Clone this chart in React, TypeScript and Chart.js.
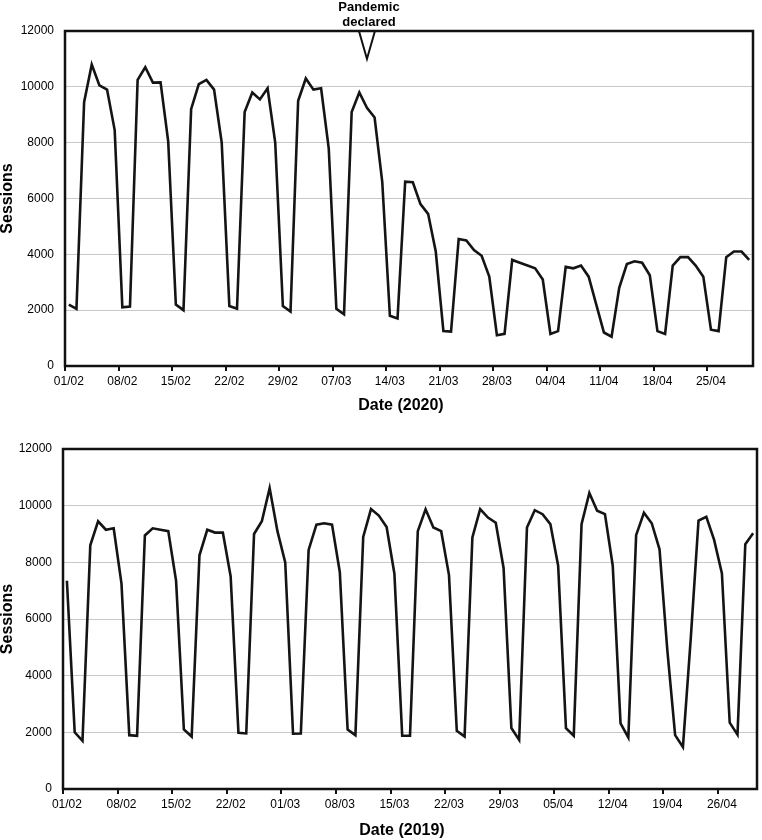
import React, { useEffect, useRef } from 'react';
import { Chart, registerables } from 'chart.js';

Chart.register(...registerables);

const FONT = '"Liberation Sans", Arial, Helvetica, sans-serif';

// Month lengths (month number, days) for the two periods shown
const months2020: [number, number][] = [[2, 29], [3, 31], [4, 30]];
const months2019: [number, number][] = [[2, 28], [3, 31], [4, 30]];

function dayLabels(months: [number, number][]): string[] {
  const out: string[] = [];
  for (const [m, n] of months) {
    for (let d = 1; d <= n; d++) {
      out.push(String(d).padStart(2, '0') + '/' + String(m).padStart(2, '0'));
    }
  }
  return out;
}

const dates2020 = dayLabels(months2020);
const dates2019 = dayLabels(months2019);

const sessions2020 = [
  2200, 2050, 9450, 10800, 10050, 9900, 8450,
  2100, 2130, 10250, 10700, 10150, 10160, 8050,
  2200, 2000, 9200, 10100, 10250, 9900, 8000,
  2150, 2050, 9100, 9800, 9550, 9950, 8000,
  2150, 1950, 9500, 10300, 9900, 9950, 7800,
  2050, 1850, 9100, 9800, 9250, 8900, 6600,
  1800, 1700, 6600, 6580, 5800, 5450, 4100,
  1250, 1230, 4550, 4500, 4150, 3950, 3200,
  1100, 1150, 3800, 3700, 3600, 3500, 3100,
  1150, 1250, 3550, 3500, 3600, 3200, 2200,
  1200, 1050, 2800, 3650, 3750, 3700, 3250,
  1250, 1150, 3600, 3900, 3900, 3600, 3200,
  1300, 1250, 3900, 4100, 4100, 3800,
];

const sessions2019 = [
  7350, 2000, 1700, 8600, 9450, 9150, 9200,
  7250, 1900, 1880, 8950, 9200, 9150, 9100,
  7350, 2100, 1850, 8250, 9150, 9050, 9050,
  7500, 1980, 1960, 9000, 9450, 10620, 9100,
  8000, 1950, 1960, 8440, 9330, 9380, 9330,
  7650, 2100, 1900, 8900, 9880, 9650, 9250,
  7600, 1880, 1880, 9100, 9870, 9230, 9100,
  7550, 2050, 1850, 8880, 9880, 9580, 9400,
  7800, 2150, 1730, 9230, 9840, 9700, 9350,
  7880, 2150, 1880, 9350, 10450, 9820, 9700,
  7880, 2320, 1820, 8960, 9750, 9380, 8460,
  4900, 1900, 1480, 5300, 9470, 9610, 8790,
  7610, 2340, 1920, 8640, 9030,
];

const yMin = 0;
const yMax = 12000;
const yStep = 2000;
const labelEvery = 7;

const pandemicDate = '11/03';
const pandemicMarkerValue = 11000;
const pandemicText = ['Pandemic', 'declared'];

type PanelProps = {
  labels: string[];
  values: number[];
  xTitle: string;
  pad: { top: number; right: number };
  yWidth: number;
  xHeight: number;
  xTitleY: number;
  annotation?: boolean;
};

function Panel({ labels, values, xTitle, pad, yWidth, xHeight, xTitleY, annotation }: PanelProps) {
  const ref = useRef<HTMLCanvasElement | null>(null);

  useEffect(() => {
    if (!ref.current) return;
    const framePlugin = {
      id: 'frame',
      afterDraw(chart: any) {
        const { ctx, chartArea } = chart;
        const { left, right, top, bottom } = chartArea;
        const xs = chart.scales.x;
        const ys = chart.scales.y;
        ctx.save();

        // tick marks between categories, one per week
        const half = (xs.getPixelForValue(1) - xs.getPixelForValue(0)) / 2;
        ctx.strokeStyle = '#111';
        ctx.lineWidth = 2;
        ctx.beginPath();
        for (let i = 0; i < labels.length; i += labelEvery) {
          const tx = Math.round(xs.getPixelForValue(i) - half);
          ctx.moveTo(tx, bottom);
          ctx.lineTo(tx, bottom + 5);
        }
        ctx.stroke();

        ctx.strokeStyle = '#111';
        ctx.lineWidth = 2.5;
        ctx.strokeRect(left, top, right - left, bottom - top);

        ctx.fillStyle = '#000';
        ctx.font = `bold 16px ${FONT}`;
        ctx.textAlign = 'center';
        ctx.textBaseline = 'middle';
        ctx.fillText(xTitle, (left + right) / 2 - 8, xTitleY);

        if (annotation) {
          const idx = labels.indexOf(pandemicDate);
          const px = xs.getPixelForValue(idx);
          const tipY = ys.getPixelForValue(pandemicMarkerValue);
          ctx.beginPath();
          ctx.moveTo(px - 8, top);
          ctx.lineTo(px, tipY);
          ctx.lineTo(px + 8, top);
          ctx.lineWidth = 2;
          ctx.strokeStyle = '#111';
          ctx.stroke();
          ctx.font = `bold 13px ${FONT}`;
          ctx.fillText(pandemicText[0], px + 2, 7);
          ctx.fillText(pandemicText[1], px + 2, 22);
        }
        ctx.restore();
      },
    };

    const chart = new Chart(ref.current, {
      type: 'line',
      data: {
        labels,
        datasets: [
          {
            data: values,
            borderColor: '#141414',
            borderWidth: 2.6,
            pointRadius: 0,
            tension: 0,
            fill: false,
          },
        ],
      },
      options: {
        responsive: false,
        animation: false,
        devicePixelRatio: 1,
        layout: { padding: { top: pad.top, right: pad.right, left: 0, bottom: 0 } },
        plugins: { legend: { display: false }, tooltip: { enabled: false } },
        scales: {
          x: {
            type: 'category',
            offset: true,
            afterFit: (s: any) => {
              s.height = xHeight;
            },
            border: { display: false },
            grid: {
              display: false,
              drawTicks: true,
              tickLength: 5,
            },
            ticks: {
              autoSkip: false,
              maxRotation: 0,
              minRotation: 0,
              padding: 3,
              color: '#000',
              font: { family: FONT, size: 12 },
              callback: (_v: any, i: number) => (i % labelEvery === 0 ? labels[i] : ''),
            },
          },
          y: {
            min: yMin,
            max: yMax,
            afterFit: (s: any) => {
              s.width = yWidth;
            },
            border: { display: false },
            grid: { color: '#c8c8c8', lineWidth: 1, drawTicks: false },
            ticks: {
              stepSize: yStep,
              padding: 11,
              color: '#000',
              font: { family: FONT, size: 12 },
              callback: (v: any) => String(v),
            },
            title: {
              display: true,
              text: 'Sessions',
              color: '#000',
              padding: 0,
              font: { family: FONT, size: 16, weight: 'bold', lineHeight: 1 },
            },
          },
        },
      },
      plugins: [framePlugin],
    } as any);
    return () => chart.destroy();
  }, []);

  return <canvas ref={ref} width={762} height={420} style={{ display: 'block' }} />;
}

export default function App() {
  return (
    <div style={{ position: 'absolute', left: 0, top: 0, width: 762, height: 840, background: '#fff' }}>
      <Panel
        labels={dates2020}
        values={sessions2020}
        xTitle="Date (2020)"
        pad={{ top: 31, right: 9 }}
        yWidth={65}
        xHeight={54}
        xTitleY={406}
        annotation
      />
      <Panel
        labels={dates2019}
        values={sessions2019}
        xTitle="Date (2019)"
        pad={{ top: 29, right: 5 }}
        yWidth={63}
        xHeight={51}
        xTitleY={411}
      />
    </div>
  );
}
